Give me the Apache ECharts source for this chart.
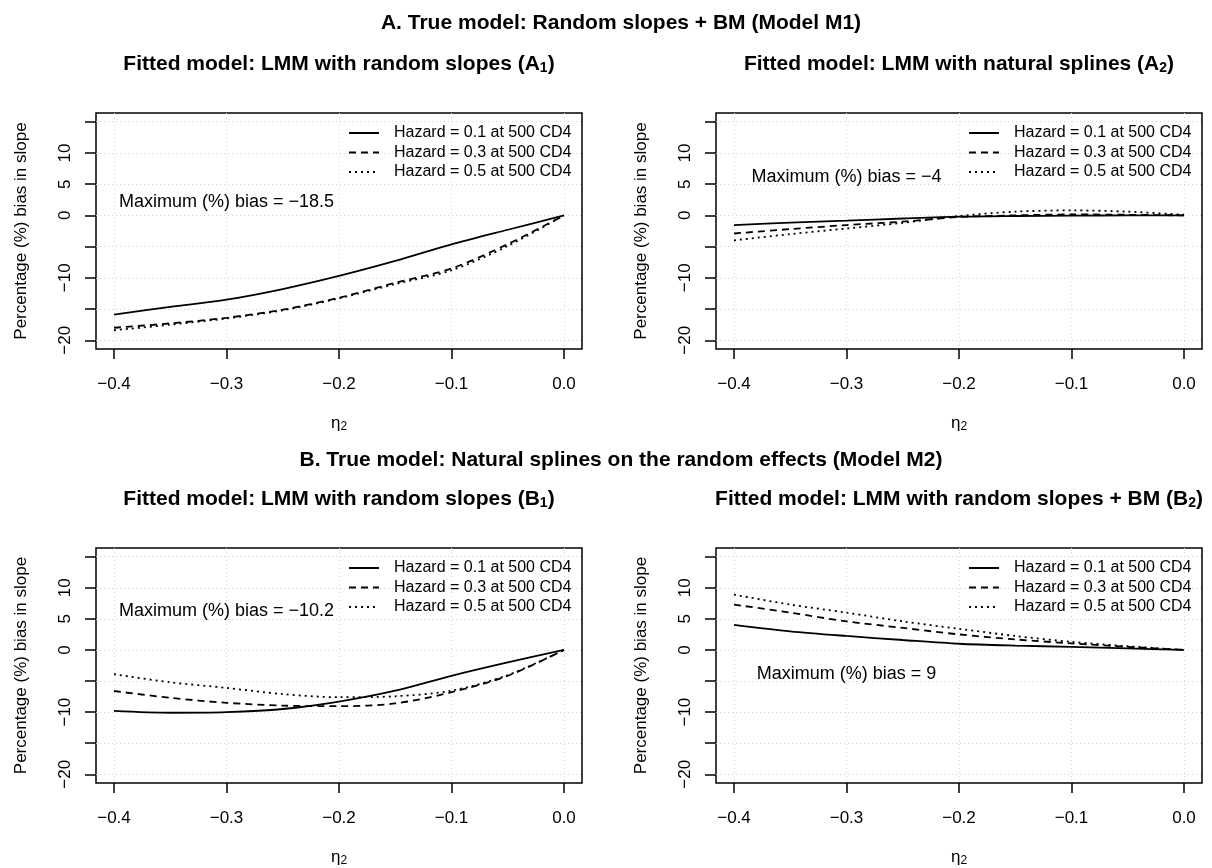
<!DOCTYPE html>
<html>
<head>
<meta charset="utf-8">
<script src="https://cdn.jsdelivr.net/npm/echarts@6/dist/echarts.min.js"></script>
<style>
  html, body { margin: 0; padding: 0; background: #fff; }
  #chart { width: 1212px; height: 868px; }
</style>
</head>
<body>
<div id="chart"></div>
<script>
// eta_2 grid used by every curve
const eta = [-0.4, -0.35, -0.3, -0.25, -0.2, -0.15, -0.1, -0.05, 0];

const hazardNames = ['Hazard = 0.1 at 500 CD4', 'Hazard = 0.3 at 500 CD4', 'Hazard = 0.5 at 500 CD4'];

// A1: true M1, fitted LMM random slopes
const a1Haz01 = [-15.9, -14.65, -13.5, -11.8, -9.7, -7.3, -4.65, -2.3, 0];
const a1Haz03 = [-18.0, -17.3, -16.4, -15.1, -13.2, -10.8, -8.5, -4.6, 0];
const a1Haz05 = [-18.4, -17.5, -16.5, -15.2, -13.3, -11.0, -8.8, -4.9, 0];

// A2: true M1, fitted LMM natural splines
const a2Haz01 = [-1.55, -1.15, -0.85, -0.5, -0.2, -0.1, -0.05, 0, 0];
const a2Haz03 = [-2.9, -2.2, -1.55, -1.0, -0.27, 0.0, 0.15, 0.1, 0];
const a2Haz05 = [-4.0, -3.0, -2.1, -1.2, -0.1, 0.6, 0.8, 0.6, 0.1];

// B1: true M2, fitted LMM random slopes
const b1Haz01 = [-9.8, -10.1, -10.0, -9.5, -8.3, -6.55, -4.15, -2.0, 0];
const b1Haz03 = [-6.6, -7.7, -8.5, -8.95, -9.05, -8.6, -6.8, -4.15, 0];
const b1Haz05 = [-3.9, -5.2, -6.1, -7.1, -7.6, -7.45, -6.55, -4.05, 0];

// B2: true M2, fitted LMM random slopes + BM
const b2Haz01 = [4.05, 3.0, 2.25, 1.6, 1.0, 0.7, 0.5, 0.25, 0];
const b2Haz03 = [7.3, 6.0, 4.6, 3.55, 2.5, 1.7, 1.05, 0.5, 0];
const b2Haz05 = [8.9, 7.3, 6.0, 4.6, 3.4, 2.25, 1.3, 0.6, 0];

const xTicks = [-0.4, -0.3, -0.2, -0.1, 0];
const yTicks = [-20, -15, -10, -5, 0, 5, 10, 15];
const yTickLabels = [-20, -10, 0, 5, 10];

const panelTitles = [
  'Fitted model: LMM with random slopes (A{sub|1})',
  'Fitted model: LMM with natural splines (A{sub|2})',
  'Fitted model: LMM with random slopes (B{sub|1})',
  'Fitted model: LMM with random slopes + BM (B{sub|2})'
];
const noteTexts = ['Maximum (%) bias = \u221218.5', 'Maximum (%) bias = \u22124', 'Maximum (%) bias = \u221210.2', 'Maximum (%) bias = 9'];
const notePos = [[-0.3, 2.2], [-0.3, 6.1], [-0.3, 6.2], [-0.3, -3.9]];

const panels = [
  [a1Haz01, a1Haz03, a1Haz05],
  [a2Haz01, a2Haz03, a2Haz05],
  [b1Haz01, b1Haz03, b1Haz05],
  [b2Haz01, b2Haz03, b2Haz05]
];

const FONT = '"Liberation Sans", Arial, Helvetica, sans-serif';
const lineTypes = ['solid', [7, 5], [2, 4]];
const boxes = [
  { left: 96, top: 113 },
  { left: 716, top: 113 },
  { left: 96, top: 548 },
  { left: 716, top: 548 }
];
const BOX_W = 486, BOX_H = 236;

const minus = v => String(v).replace('-', '\u2212');

const chart = echarts.init(document.getElementById('chart'));

const grid = [], xAxis = [], yAxis = [], series = [], legend = [], graphic = [];

boxes.forEach((b, i) => {
  grid.push({
    left: b.left, top: b.top, width: BOX_W, height: BOX_H,
    show: true, borderColor: '#000', borderWidth: 1.5, backgroundColor: 'transparent'
  });
  xAxis.push({
    gridIndex: i, type: 'value', min: -0.416, max: 0.016, splitNumber: 4,
    name: '\u03b7{sub|2}', nameLocation: 'middle', nameGap: 64,
    nameTextStyle: { fontFamily: FONT, fontSize: 17, color: '#000', rich: { sub: { fontSize: 12, padding: [8, 0, 0, 0] } } },
    axisLine: { show: false, onZero: false },
    axisTick: { show: true, length: 10, customValues: xTicks, lineStyle: { color: '#000', width: 1.5 } },
    axisLabel: { customValues: xTicks, margin: 27, fontFamily: FONT, fontSize: 17, color: '#000',
      formatter: v => minus(v.toFixed(1)) },
    splitLine: { show: true, lineStyle: { color: '#d3d3d3', type: [1, 3], width: 1 } }
  });
  yAxis.push({
    gridIndex: i, type: 'value', min: -21.4, max: 16.4, splitNumber: 8,
    name: 'Percentage (%) bias in slope', nameLocation: 'middle', nameGap: 66, nameRotate: 90,
    nameTextStyle: { fontFamily: FONT, fontSize: 17, color: '#000' },
    axisLine: { show: false, onZero: false },
    axisTick: { show: true, length: 11, customValues: yTicks, lineStyle: { color: '#000', width: 1.5 } },
    axisLabel: { customValues: yTickLabels, rotate: 90, margin: 22, fontFamily: FONT, fontSize: 17, color: '#000',
      formatter: v => minus(v) },
    splitLine: { show: true, lineStyle: { color: '#d3d3d3', type: [1, 3], width: 1 } }
  });

  panels[i].forEach((vals, k) => {
    series.push({
      name: hazardNames[k], type: 'line', xAxisIndex: i, yAxisIndex: i,
      data: eta.map((x, j) => [x, vals[j]]),
      symbol: 'none', smooth: 0.3,
      lineStyle: { color: '#000', width: 1.8, type: lineTypes[k] },
      itemStyle: { color: '#000' }, silent: true
    });
  });
  series.push({
    name: 'note' + i, type: 'scatter', xAxisIndex: i, yAxisIndex: i,
    data: [notePos[i]], symbolSize: 0, silent: true,
    itemStyle: { opacity: 1 },
    label: { show: true, position: 'inside', formatter: noteTexts[i], fontFamily: FONT, fontSize: 18,
      color: '#000', opacity: 1 }
  });

  legend.push({
    data: hazardNames, orient: 'vertical', left: b.left + 252, top: b.top + 12,
    itemWidth: 30, itemHeight: 16, itemGap: 3.5, padding: 0, selectedMode: false,
    itemStyle: { opacity: 0 },
    textStyle: { fontFamily: FONT, fontSize: 16, color: '#000', lineHeight: 16, padding: [0, 0, 0, 10] }
  });

  graphic.push({
    type: 'text', x: b.left + BOX_W / 2, y: b.top - 49,
    style: {
      text: panelTitles[i], fontFamily: FONT, fontSize: 21, fontWeight: 'bold', fill: '#000',
      align: 'center', verticalAlign: 'middle',
      rich: { sub: { fontSize: 14, fontWeight: 'bold', padding: [9, 0, 0, 0], fontFamily: FONT } }
    }
  });
});

graphic.push({
  type: 'text', x: 621, y: 23,
  style: { text: 'A. True model: Random slopes + BM (Model M1)', fontFamily: FONT, fontSize: 21, fontWeight: 'bold',
    fill: '#000', align: 'center', verticalAlign: 'middle' }
});
graphic.push({
  type: 'text', x: 621, y: 460,
  style: { text: 'B. True model: Natural splines on the random effects (Model M2)', fontFamily: FONT, fontSize: 21,
    fontWeight: 'bold', fill: '#000', align: 'center', verticalAlign: 'middle' }
});

chart.setOption({
  backgroundColor: '#fff',
  animation: false,
  grid, xAxis, yAxis, series, legend, graphic
});
</script>
</body>
</html>
